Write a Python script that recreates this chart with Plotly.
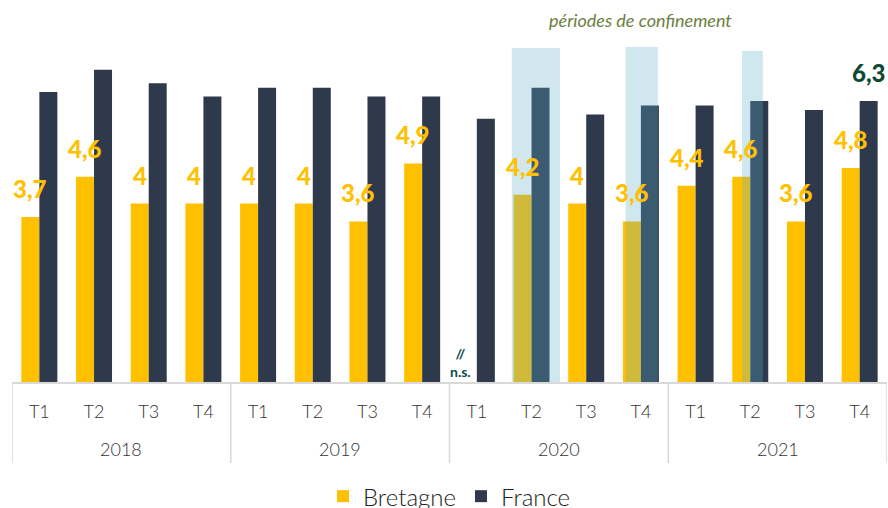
import plotly.graph_objects as go

years = ["2018", "2019", "2020", "2021"]
quarters = ["T1", "T2", "T3", "T4"]
bretagne = [3.7, 4.6, 4.0, 4.0, 4.0, 4.0, 3.6, 4.9, None, 4.2, 4.0, 3.6, 4.4, 4.6, 3.6, 4.8]
france = [6.5, 7.0, 6.7, 6.4, 6.6, 6.6, 6.4, 6.4, 5.9, 6.6, 6.0, 6.2, 6.2, 6.3, 6.1, 6.3]
bretagne_labels = ["3,7", "4,6", "4", "4", "4", "4", "3,6", "4,9", "", "4,2", "4", "3,6", "4,4", "4,6", "3,6", "4,8"]
france_labels = [""] * 15 + ["6,3"]
# confinement periods (start, end in quarter-index units, top value)
confinement_spans = [(8.64, 9.52, 7.49), (10.72, 11.31, 7.51), (12.85, 13.23, 7.42)]

YELLOW = "#FFC000"
NAVY = "#2E3A4C"
FONT = "Lato"

x_idx = list(range(len(bretagne)))
tick_text = [q for _ in years for q in quarters]

fig = go.Figure()
fig.add_trace(go.Bar(x=x_idx, y=bretagne, name="Bretagne", marker=dict(color=YELLOW, line=dict(width=0))))
fig.add_trace(go.Bar(x=x_idx, y=france, name="France", marker=dict(color=NAVY, line=dict(width=0))))

annotations = []
for i, (v, t) in enumerate(zip(bretagne, bretagne_labels)):
    if v is not None and t:
        annotations.append(dict(x=i, y=v, xref="x", yref="y", text=t, showarrow=False,
                                xanchor="center", yanchor="bottom", xshift=-9, yshift=12,
                                font=dict(family=FONT, size=24, color=YELLOW, weight=900)))
for i, (v, t) in enumerate(zip(france, france_labels)):
    if t:
        annotations.append(dict(x=i, y=v, xref="x", yref="y", text=t, showarrow=False,
                                xanchor="center", yanchor="bottom", xshift=9, yshift=12,
                                font=dict(family=FONT, size=24, color="#0E4A32", weight=900)))
# n.s. marker for missing value
ns_idx = bretagne.index(None)
annotations.append(dict(x=ns_idx, y=0, xref="x", yref="y", text="<b>//</b><br><b>n.s.</b>", showarrow=False,
                        xanchor="center", yanchor="bottom", xshift=-16, yshift=0,
                        font=dict(family=FONT, size=14, color="#0B4A4E")))
# year labels
for k, yr in enumerate(years):
    annotations.append(dict(x=4 * k + 1.5, y=-0.196, xref="x", yref="paper", text=yr, showarrow=False,
                            xanchor="center", yanchor="middle",
                            font=dict(family=FONT, size=18, color="#333333", weight=300)))
annotations.append(dict(x=0.718, y=1.058, xref="paper", yref="paper", text="<i>périodes de confinement</i>",
                        showarrow=False, xanchor="center", yanchor="middle",
                        font=dict(family=FONT, size=18, color="#6B8040")))

shapes = []
for k in range(len(years) + 1):
    shapes.append(dict(type="line", xref="x", yref="paper", x0=4 * k - 0.5, x1=4 * k - 0.5,
                       y0=0, y1=-0.237, line=dict(color="#D9D9D9", width=1.5)))
for x0, x1, top in confinement_spans:
    shapes.append(dict(type="rect", xref="x", yref="y", x0=x0, x1=x1, y0=0, y1=top,
                       fillcolor="rgba(93,171,200,0.29)", line=dict(width=0), layer="above"))

fig.update_layout(
    width=888, height=508,
    margin=dict(l=12, r=1, t=40, b=126, autoexpand=False),
    paper_bgcolor="white", plot_bgcolor="white",
    barmode="group", bargap=0.342, bargroupgap=0,
    showlegend=True,
    legend=dict(orientation="h", x=0.5, xanchor="center", y=-0.335, yanchor="middle",
                font=dict(family=FONT, size=24, color="#222222", weight=300), itemwidth=30),
    annotations=annotations, shapes=shapes,
    xaxis=dict(range=[-0.5, 15.5], tickmode="array", tickvals=x_idx, ticktext=tick_text,
               showline=True, linecolor="#D9D9D9", linewidth=1.5, showgrid=False, zeroline=False,
               ticks="", ticklabelstandoff=13, automargin=False,
               tickfont=dict(family=FONT, size=18, color="#333333", weight=300)),
    yaxis=dict(range=[0, 342 / 44.6], visible=False, showgrid=False, zeroline=False, automargin=False),
)

fig.write_html("out.html", config={"displayModeBar": False},
               post_script="document.body.style.margin='0';document.body.style.overflow='hidden';")
